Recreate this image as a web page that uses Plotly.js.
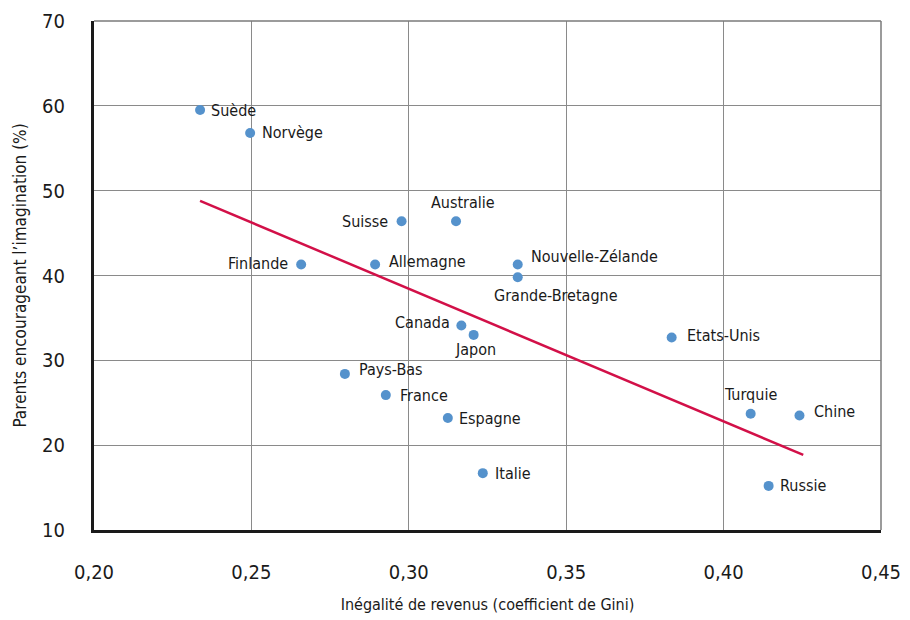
<!DOCTYPE html>
<html>
<head>
<meta charset="utf-8">
<script src="https://cdn.plot.ly/plotly-3.0.1.min.js"></script>
<style>html,body{margin:0;padding:0;background:#fff}#chart{width:910px;height:620px}</style>
</head>
<body>
<div id="chart"></div>
<script>
const countries = ["Suède","Norvège","Suisse","Australie","Finlande","Allemagne","Nouvelle-Zélande","Grande-Bretagne","Canada","Japon","Etats-Unis","Pays-Bas","France","Espagne","Italie","Turquie","Chine","Russie"];
const gini = [0.2337,0.2496,0.2977,0.3150,0.2658,0.2893,0.3346,0.3346,0.3167,0.3206,0.3835,0.2797,0.2927,0.3124,0.3235,0.4086,0.4241,0.4143];
const imagination = [59.5,56.8,46.4,46.4,41.3,41.3,41.3,39.8,34.1,33.0,32.7,28.4,25.9,23.2,16.7,23.7,23.5,15.2];
const trendX = [0.2337,0.4253];
const trendY = [48.8,18.85];
const xTicks = [0.20,0.25,0.30,0.35,0.40,0.45];
const xTickText = ["0,20","0,25","0,30","0,35","0,40","0,45"];
const yTicks = [10,20,30,40,50,60,70];

// label placement (style): anchor and pixel shifts
const labelAnchor = ["left","left","right","center","right","left","left","center","right","center","left","left","left","left","left","center","left","left"];
const labelDx = [9,10,-12,7,-11,12,11,38,-9,2,13,12,12,9,10,0,13,9];
const labelDy = [0,0,0,19,1,3,8,-18,3,-15,2,4,0,0,0,19,4,0];

const FONT = "'Liberation Sans Narrow','DejaVu Sans Condensed','Roboto Condensed',sans-serif";

const traces = [
  {
    x: trendX, y: trendY, mode: "lines", type: "scatter",
    line: {color: "#d21048", width: 2.5}, hoverinfo: "skip", cliponaxis: false
  },
  {
    x: gini, y: imagination, mode: "markers", type: "scatter",
    marker: {color: "#5592cc", size: 10}, cliponaxis: false
  }
];

const annotations = countries.map((c, i) => ({
  x: gini[i], y: imagination[i], xref: "x", yref: "y", text: c,
  showarrow: false, xanchor: labelAnchor[i], yanchor: "middle",
  xshift: labelDx[i], yshift: labelDy[i],
  font: {family: FONT, size: 16, color: "#1a1a1a"}
}));

const layout = {
  width: 910, height: 620,
  margin: {l: 94, r: 29, t: 21, b: 90},
  paper_bgcolor: "#fff", plot_bgcolor: "#fff",
  showlegend: false,
  font: {family: FONT, color: "#1a1a1a"},
  annotations: annotations,
  xaxis: {
    range: [0.20, 0.45], tickvals: xTicks, ticktext: xTickText,
    showgrid: true, gridcolor: "#8a8a8a", gridwidth: 1,
    zeroline: false, showline: true, linecolor: "#1a1a1a", linewidth: 3,
    mirror: false, ticks: "", ticklabelstandoff: 22,
    tickfont: {family: FONT, size: 20, color: "#1a1a1a"},
    title: {text: "Inégalité de revenus (coefficient de Gini)", font: {family: FONT, size: 16, color: "#1a1a1a"}, standoff: 16}
  },
  yaxis: {
    range: [10, 70], tickvals: yTicks,
    showgrid: true, gridcolor: "#8a8a8a", gridwidth: 1,
    zeroline: false, showline: true, linecolor: "#1a1a1a", linewidth: 3,
    ticks: "", ticklabelstandoff: 22,
    tickfont: {family: FONT, size: 20, color: "#1a1a1a"},
    title: {text: "Parents encourageant l’imagination (%)", font: {family: FONT, size: 17, color: "#1a1a1a"}, standoff: 12}
  },
  shapes: [
    {type: "line", xref: "paper", yref: "paper", x0: 0, x1: 1, y0: 1, y1: 1, line: {color: "#7a7a7a", width: 1.5}},
    {type: "line", xref: "paper", yref: "paper", x0: 1, x1: 1, y0: 0, y1: 1, line: {color: "#7a7a7a", width: 1.5}}
  ]
};

Plotly.newPlot("chart", traces, layout, {displayModeBar: false, staticPlot: true});
</script>
</body>
</html>
